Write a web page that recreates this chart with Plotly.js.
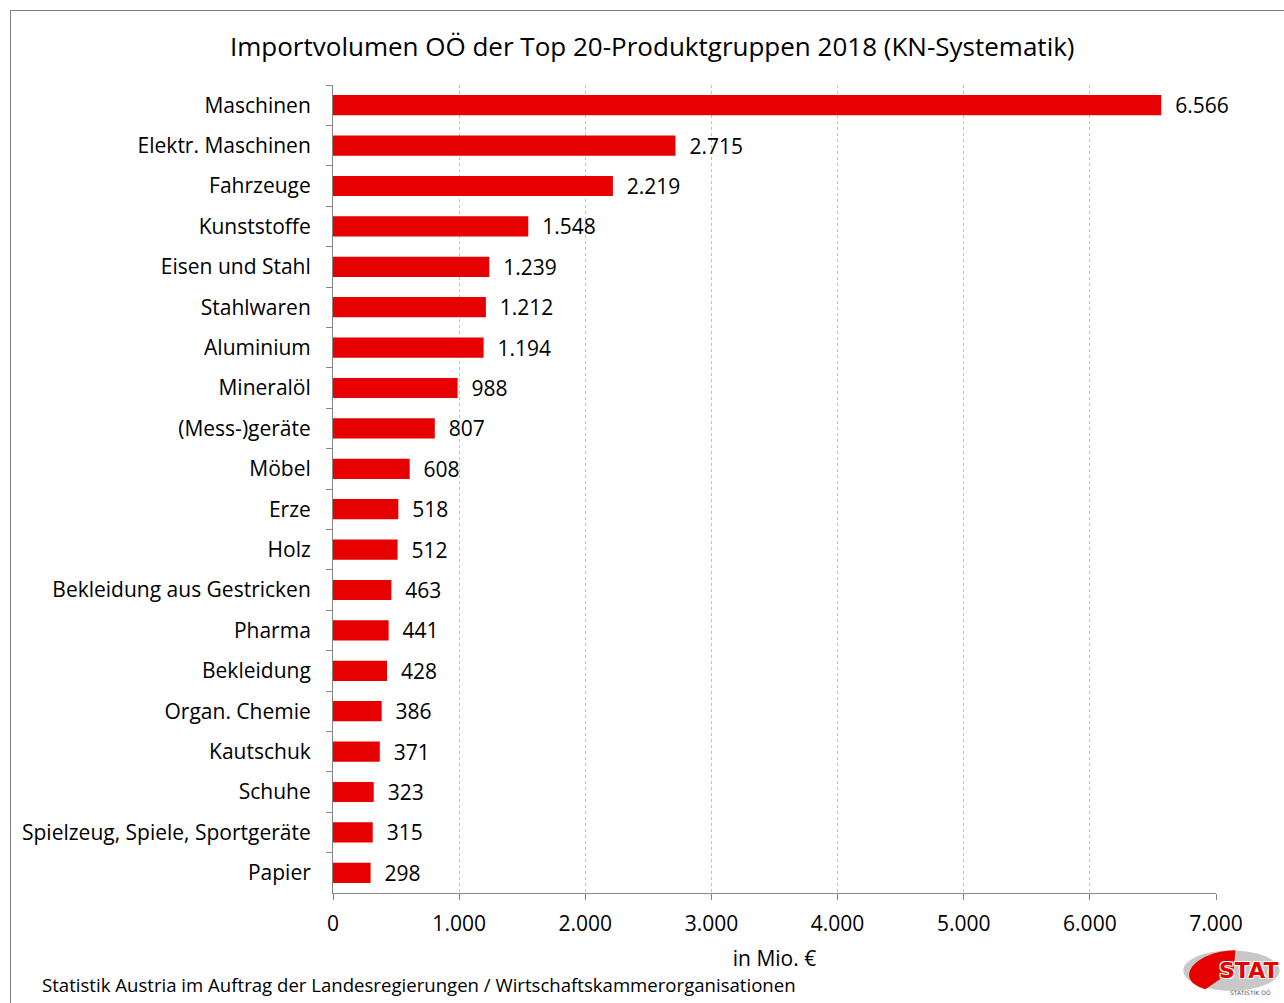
<!DOCTYPE html>
<html><head><meta charset="utf-8">
<script src="https://cdn.plot.ly/plotly-3.0.1.min.js"></script>
<style>
html,body{margin:0;padding:0;background:#fff;}
#frame{position:absolute;left:10px;top:10px;width:1290px;height:1010px;border:1px solid #7f7f7f;box-sizing:border-box;}
#chart{position:absolute;left:0;top:0;width:1284px;height:1003px;}
</style>
</head><body>
<div id="frame"></div>
<div id="chart"></div>
<script>
const categories = ["Maschinen","Elektr. Maschinen","Fahrzeuge","Kunststoffe","Eisen und Stahl","Stahlwaren","Aluminium","Mineralöl","(Mess-)geräte","Möbel","Erze","Holz","Bekleidung aus Gestricken","Pharma","Bekleidung","Organ. Chemie","Kautschuk","Schuhe","Spielzeug, Spiele, Sportgeräte","Papier"];
const values = [6566,2715,2219,1548,1239,1212,1194,988,807,608,518,512,463,441,428,386,371,323,315,298];
const tickVals = [0,1000,2000,3000,4000,5000,6000,7000];
const titleText = "Importvolumen OÖ der Top 20-Produktgruppen 2018 (KN-Systematik)";
const xTitle = "in Mio. €";
const footer = "Statistik Austria im Auftrag der Landesregierungen / Wirtschaftskammerorganisationen";

const FONT = "Open Sans, Noto Sans, sans-serif";
const fmt = v => v.toLocaleString('de-DE');

const trace = {
  type:'bar', orientation:'h',
  x: values, y: categories,
  marker:{color:'#E60000'},
  text: values.map(v => '\u00a0\u00a0' + fmt(v)),
  textposition:'outside', cliponaxis:false, constraintext:'none',
  textfont:{family:FONT,size:21,color:'#000'},
  hoverinfo:'x+y'
};

const layout = {
  width:1284, height:1003,
  margin:{l:333,r:68,t:85,b:110},
  paper_bgcolor:'rgba(0,0,0,0)', plot_bgcolor:'#fff',
  separators:',.',
  bargap:0.5,
  showlegend:false,
  font:{family:FONT,color:'#000'},
  title:{text:titleText,font:{family:FONT,size:26,color:'#000'},x:0.508,xanchor:'center',y:0.953,yanchor:'middle'},
  xaxis:{range:[0,7000],tickvals:tickVals,ticktext:tickVals.map(fmt),
    showgrid:true,gridcolor:'#bfbfbf',griddash:'dot',gridwidth:1,
    showline:true,linecolor:'#868686',linewidth:1,
    ticks:'outside',ticklen:6,tickcolor:'#868686',ticklabelstandoff:6,
    tickfont:{family:FONT,size:21,color:'#000'},
    zeroline:false,
    title:{text:xTitle,font:{family:FONT,size:21,color:'#000'},standoff:15}},
  yaxis:{type:'category',autorange:'reversed',
    showline:true,linecolor:'#868686',linewidth:1,
    ticks:'outside',tickson:'boundaries',ticklen:6,tickcolor:'#868686',
    tickfont:{family:FONT,size:21,color:'#000'},ticklabelstandoff:17,
    showgrid:false},
  annotations:[
    {text:footer,xref:'paper',yref:'paper',x:-0.3318,y:-0.1135,xanchor:'left',yanchor:'middle',showarrow:false,font:{family:FONT,size:18.6,color:'#000'}},
    {text:'<b>STAT</b>',xref:'paper',yref:'paper',x:1.037,y:-0.0955,xanchor:'center',yanchor:'middle',showarrow:false,font:{family:'DejaVu Sans',size:22,color:'#e60000',shadow:'1px 1px 0 #fff, -1px -1px 0 #fff, 1px -1px 0 #fff, -1px 1px 0 #fff'}},
    {text:'STATISTIK OÖ',xref:'paper',yref:'paper',x:1.039,y:-0.1235,xanchor:'center',yanchor:'middle',showarrow:false,font:{family:'DejaVu Sans',size:6,color:'#555'}}
  ],
  shapes:[
    {type:'circle',xref:'paper',yref:'paper',x0:0.963,x1:1.072,y0:-0.121,y1:-0.071,fillcolor:'#c8c8c8',line:{width:0},layer:'below'},
    {type:'path',xref:'paper',yref:'paper',path:'M 1.022 -0.071 C 0.975 -0.072 0.950 -0.108 0.988 -0.119 L 1.02 -0.095 Z',fillcolor:'#e60000',line:{width:0},layer:'below'}
  ]
};

Plotly.newPlot('chart',[trace],layout,{displayModeBar:false,staticPlot:true});
</script>
</body></html>
